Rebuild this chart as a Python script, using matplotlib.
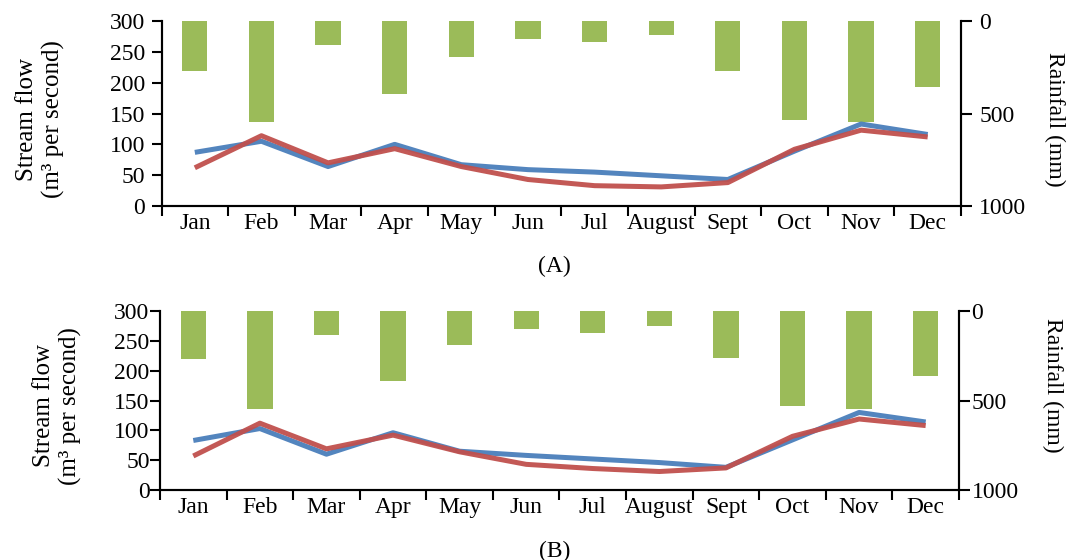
import matplotlib
matplotlib.use("Agg")
import matplotlib.pyplot as plt
import numpy as np

plt.rcParams['font.family'] = ['Liberation Serif', 'DejaVu Serif']

months = ['Jan', 'Feb', 'Mar', 'Apr', 'May', 'Jun', 'Jul', 'August',
          'Sept', 'Oct', 'Nov', 'Dec']

# panel A
flow_blue_a = [87, 105, 64, 100, 67, 59, 55, 49, 43, 89, 133, 116]
flow_red_a = [62, 114, 70, 93, 64, 43, 33, 31, 38, 92, 123, 112]
rain_a = [270, 544, 129, 394, 196, 98, 116, 73, 270, 534, 544, 359]

# panel B
flow_blue_b = [83, 103, 60, 96, 65, 58, 52, 46, 38, 84, 130, 114]
flow_red_b = [57, 112, 69, 92, 64, 43, 36, 31, 37, 90, 119, 108]
rain_b = [267, 549, 132, 393, 192, 98, 120, 82, 265, 533, 550, 364]

BLUE = '#4a7ebb'
RED = '#c0504d'
GREEN = '#9bbb59'
TICK_FS = 17
LABEL_FS = 18

fig = plt.figure(figsize=(10.71, 5.60), dpi=100)


def panel(rect, blue, red, rain, tag, tag_y, lpad, rpad, ylab_x, rlab_y):
    ax = fig.add_axes(rect)
    ax2 = ax.twinx()
    x = np.arange(len(months))

    ax2.bar(x, rain, width=0.38, color=GREEN, zorder=1)
    ax2.set_ylim(1000, 0)
    ax2.set_yticks([0, 500, 1000])

    ax.plot(x, blue, color=BLUE, lw=3.6, solid_capstyle='butt', alpha=0.95)
    ax.plot(x, red, color=RED, lw=3.6, solid_capstyle='butt', alpha=0.95)
    ax.set_ylim(0, 300)
    ax.set_yticks(range(0, 301, 50))
    ax.set_xlim(-0.5, len(months) - 0.5)

    # labels at month centres, tick marks on the boundaries
    ax.set_xticks(x)
    ax.set_xticklabels(months)
    ax.set_xticks(np.arange(-0.5, len(months)), minor=True)
    ax.tick_params(axis='x', which='major', length=0, pad=5,
                   labelsize=TICK_FS)
    ax.tick_params(axis='x', which='minor', length=7, width=1.5,
                   direction='out')
    ax.tick_params(axis='y', length=7, width=1.5, pad=lpad,
                   labelsize=TICK_FS)
    ax2.tick_params(axis='y', length=8, width=1.5, pad=rpad,
                    labelsize=TICK_FS)

    for a in (ax, ax2):
        a.spines['top'].set_visible(False)
        for s in ('left', 'right', 'bottom'):
            a.spines[s].set_linewidth(1.5)

    # keep the flow lines above the rainfall bars
    ax.set_zorder(ax2.get_zorder() + 1)
    ax.patch.set_visible(False)

    ax.set_ylabel('Stream flow\n(m\u00b3 per second)', fontsize=LABEL_FS,
                  linespacing=1.2)
    ax.yaxis.set_label_coords(ylab_x, 0.47)
    ax2.set_ylabel('Rainfall (mm)', fontsize=17, rotation=270,
                   va='bottom')
    ax2.yaxis.set_label_coords(1.104, rlab_y)

    fig.text(0.518, tag_y, tag, fontsize=TICK_FS, ha='center', va='center')
    return ax


panel([0.1508, 0.6321, 0.7465, 0.3304], flow_blue_a, flow_red_a, rain_a,
      '(A)', 0.525, 5, 5, -0.121, 0.47)
panel([0.1494, 0.1250, 0.7460, 0.3196], flow_blue_b, flow_red_b, rain_b,
      '(B)', 0.016, 0.5, 1, -0.098, 0.585)

fig.savefig('out.png', dpi=100)
